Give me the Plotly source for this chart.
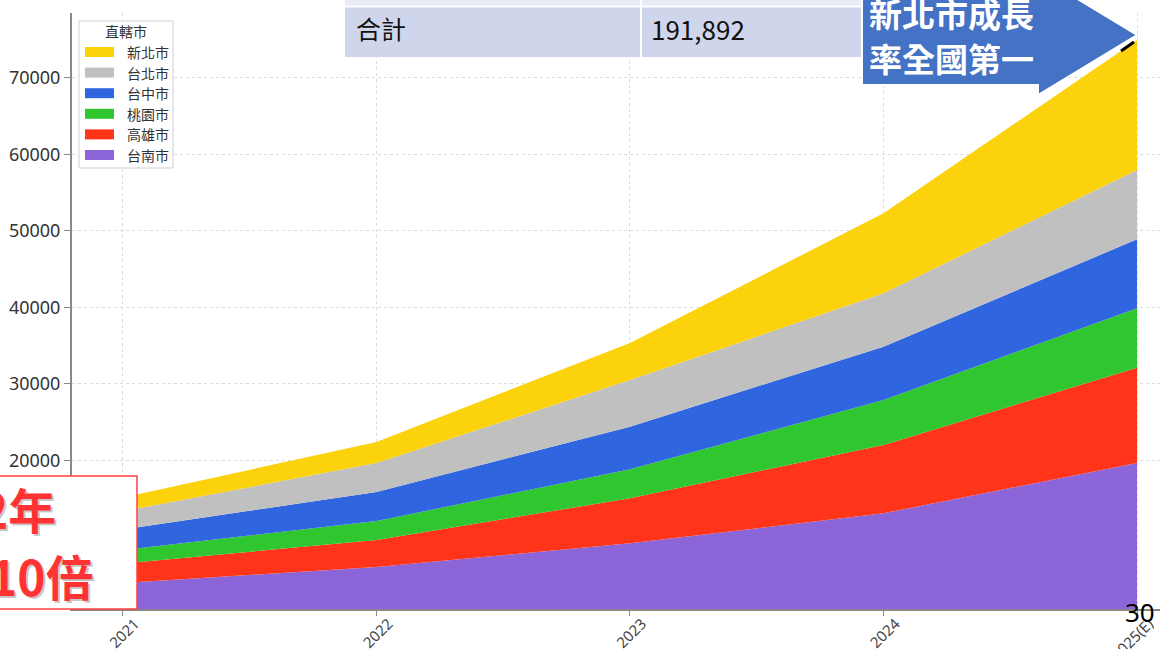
import plotly.graph_objects as go

years = [2021, 2022, 2023, 2024, 2025]
year_labels = ["2021", "2022", "2023", "2024", "2025(E)"]

# stacked bottom -> top
tainan = [3960, 6050, 9150, 13070, 19640]
kaohsiung = [2540, 3530, 5880, 8930, 12460]
taoyuan = [1780, 2480, 3790, 5880, 7760]
taichung = [2680, 3790, 5570, 6970, 9020]
taipei = [2390, 3790, 6100, 6980, 9060]
new_taipei = [1770, 2750, 4840, 10460, 16990]

legend_title = "直轄市"
series = [
    ("台南市", tainan, "#8C66D8"),
    ("高雄市", kaohsiung, "#FF3419"),
    ("桃園市", taoyuan, "#2FC62F"),
    ("台中市", taichung, "#2F66E0"),
    ("台北市", taipei, "#C0C0C0"),
    ("新北市", new_taipei, "#FBD20C"),
]

W, H = 1160, 649
L, R, T, B = 72, 1160, 13, 609


def px(xp):
    return (xp - L) / (R - L)


def py(yp):
    return (B - yp) / (B - T)


fig = go.Figure()
for name, vals, col in series:
    fig.add_trace(go.Scatter(
        x=years, y=vals, name=name, mode="lines",
        stackgroup="one", line=dict(width=0, color=col),
        fillcolor=col, showlegend=False, hoverinfo="skip",
    ))

fig.update_layout(
    width=W, height=H,
    margin=dict(l=L, r=W - R, t=T, b=H - B, autoexpand=False),
    paper_bgcolor="white", plot_bgcolor="white",
    font=dict(family="Noto Sans, Noto Sans CJK TC, sans-serif", color="#333"),
    showlegend=False,
)

fig.update_xaxes(
    range=[2021 - (123 - L) / 253.6, 2025 + (R - 1137) / 253.6],
    tickvals=years, ticktext=year_labels, tickangle=-45,
    tickfont=dict(size=15, color="#444"),
    ticklabelshift=12, ticklabelstandoff=-7,
    showgrid=True, gridcolor="#dcdcdc", griddash="dot", gridwidth=1,
    showline=True, linecolor="#888", linewidth=2,
    ticks="outside", ticklen=5, tickcolor="#888",
    automargin=False, zeroline=False,
)
fig.update_yaxes(
    range=[560, 78460],
    tickvals=[20000, 30000, 40000, 50000, 60000, 70000],
    tickformat="d",
    tickfont=dict(size=18, color="#333"),
    showgrid=True, gridcolor="#dcdcdc", griddash="dot", gridwidth=1,
    showline=True, linecolor="#888", linewidth=2,
    ticks="outside", ticklen=6, tickcolor="#888",
    automargin=False, zeroline=False,
)

shapes = []
ann = []

# manual legend (matplotlib style)
shapes.append(dict(type="rect", xref="paper", yref="paper",
                   x0=px(79), x1=px(173), y0=py(21), y1=py(168),
                   fillcolor="white", line=dict(color="#d0d0d0", width=1), layer="above"))
ann.append(dict(text=legend_title, xref="paper", yref="paper", x=px(126), y=py(31),
                xanchor="center", yanchor="middle", showarrow=False,
                font=dict(size=14, color="#333", family="Noto Sans CJK TC")))
for i, (name, vals, col) in enumerate(reversed(series)):
    yc = 52 + i * 20.6
    shapes.append(dict(type="rect", xref="paper", yref="paper",
                       x0=px(85), x1=px(114), y0=py(yc + 5), y1=py(yc - 5),
                       fillcolor=col, line=dict(width=0), layer="above"))
    ann.append(dict(text=name, xref="paper", yref="paper", x=px(125), y=py(yc),
                    xanchor="left", yanchor="middle", showarrow=False,
                    font=dict(size=14, color="#333", family="Noto Sans CJK TC")))

# table overlay
shapes.append(dict(type="rect", xref="paper", yref="paper",
                   x0=px(345), x1=px(870), y0=py(-10), y1=py(6),
                   fillcolor="#E9EBF5", line=dict(width=0), layer="above"))
shapes.append(dict(type="rect", xref="paper", yref="paper",
                   x0=px(345), x1=px(870), y0=py(7), y1=py(57),
                   fillcolor="#CFD5EA", line=dict(width=0), layer="above"))
shapes.append(dict(type="line", xref="paper", yref="paper",
                   x0=px(345), x1=px(870), y0=py(6.5), y1=py(6.5),
                   line=dict(color="white", width=2), layer="above"))
shapes.append(dict(type="line", xref="paper", yref="paper",
                   x0=px(641), x1=px(641), y0=py(-10), y1=py(57),
                   line=dict(color="white", width=2), layer="above"))

# arrow
pts = [(862, -15), (1038, -15), (1038, -25), (1137, 35), (1038, 95), (1038, 85), (862, 85)]
path = "M " + " L ".join(f"{px(a)},{py(b)}" for a, b in pts) + " Z"
shapes.append(dict(type="path", xref="paper", yref="paper", path=path,
                   fillcolor="#4472C4", line=dict(color="white", width=2), layer="above"))
shapes.append(dict(type="line", xref="paper", yref="paper",
                   x0=px(1121), x1=px(1134), y0=py(51), y1=py(42),
                   line=dict(color="black", width=3), layer="above"))

# red box
shapes.append(dict(type="rect", xref="paper", yref="paper",
                   x0=px(-10), x1=px(137), y0=py(609), y1=py(476),
                   fillcolor="white", line=dict(color="#FF4040", width=1.5), layer="above"))
fig.update_layout(shapes=shapes)

ann.append(dict(text="合計", xref="paper", yref="paper", x=px(354), y=py(28),
                xanchor="left", yanchor="middle", showarrow=False,
                font=dict(size=25, color="#111", family="Noto Sans CJK TC")))
ann.append(dict(text="191,892", xref="paper", yref="paper", x=px(649), y=py(28),
                xanchor="left", yanchor="middle", showarrow=False,
                font=dict(size=26, color="#111", family="Noto Sans CJK TC")))
ann.append(dict(text="<b>新北市成長</b>", xref="paper", yref="paper", x=px(867), y=py(13),
                xanchor="left", yanchor="middle", showarrow=False,
                font=dict(size=33, color="white", family="Noto Sans CJK TC")))
ann.append(dict(text="<b>率全國第一</b>", xref="paper", yref="paper", x=px(867), y=py(58),
                xanchor="left", yanchor="middle", showarrow=False,
                font=dict(size=33, color="white", family="Noto Sans CJK TC")))
for txt, xr, yc in [("2年", 58, 508), ("10倍", 96, 575)]:
    ann.append(dict(text=f"<b>{txt}</b>", xref="paper", yref="paper", x=px(xr + 2), y=py(yc + 2),
                    xanchor="right", yanchor="middle", showarrow=False,
                    font=dict(size=48, color="rgba(0,0,0,0.22)", family="Noto Sans CJK TC")))
    ann.append(dict(text=f"<b>{txt}</b>", xref="paper", yref="paper", x=px(xr), y=py(yc),
                    xanchor="right", yanchor="middle", showarrow=False,
                    font=dict(size=48, color="#FF3333", family="Noto Sans CJK TC")))
ann.append(dict(text="30", xref="paper", yref="paper", x=px(1157), y=py(612),
                xanchor="right", yanchor="middle", showarrow=False,
                font=dict(size=26, color="black", family="Noto Sans")))
fig.update_layout(annotations=ann)

fig.write_html("out.html", config={"displayModeBar": False},
               post_script="document.body.style.margin='0px';document.body.style.overflow='hidden';")
